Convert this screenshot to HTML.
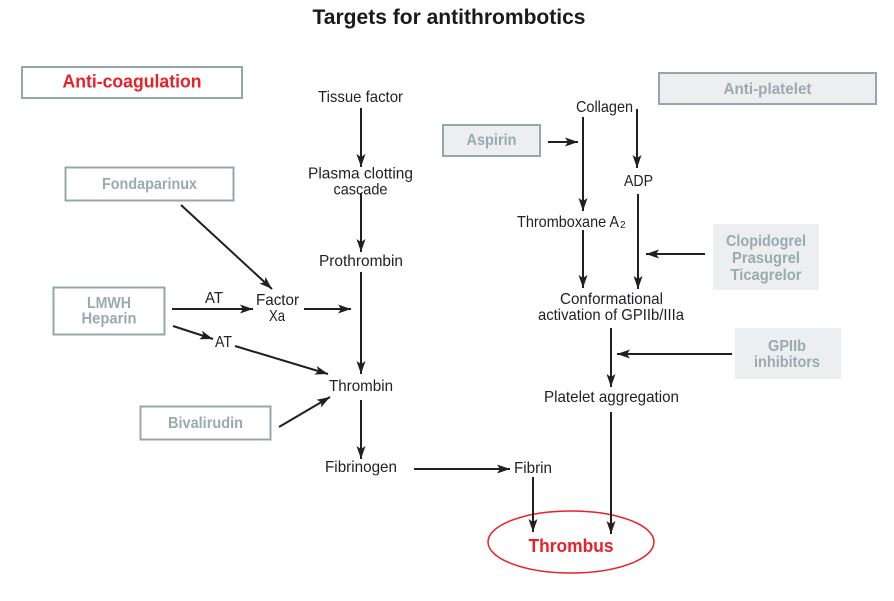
<!DOCTYPE html>
<html>
<head>
<meta charset="utf-8">
<style>
  html, body { margin: 0; padding: 0; background: #ffffff; }
  body { width: 894px; height: 601px; overflow: hidden; }
  svg { display: block; }
  .t { font-family: "Liberation Sans", sans-serif; font-size: 16px; fill: #22202a; }
  .g { font-family: "Liberation Sans", sans-serif; font-size: 16px; font-weight: bold; fill: #98abb0; }
  .r { font-family: "Liberation Sans", sans-serif; font-weight: bold; fill: #e8202a; }
  .ln { stroke: #231f20; stroke-width: 2; fill: none; }
</style>
</head>
<body>
<svg width="894" height="601" viewBox="0 0 894 601" xmlns="http://www.w3.org/2000/svg">
  <defs>
    <marker id="ah" viewBox="0 0 13 9" refX="13" refY="4.5" markerWidth="13" markerHeight="9" markerUnits="userSpaceOnUse" orient="auto">
      <path d="M0,0 L13,4.5 L0,9 L3,4.5 z" fill="#231f20"/>
    </marker>
  </defs>

  <!-- Title -->
  <text x="449" y="24" text-anchor="middle" font-family="Liberation Sans, sans-serif" font-size="21" font-weight="bold" fill="#1a1a1a" textLength="273" lengthAdjust="spacingAndGlyphs">Targets for antithrombotics</text>

  <!-- Boxes -->
  <rect x="22" y="67" width="220" height="31" fill="#ffffff" stroke="#95a7ab" stroke-width="2"/>
  <text class="r" x="132" y="87.5" text-anchor="middle" font-size="18" textLength="139" lengthAdjust="spacingAndGlyphs">Anti-coagulation</text>

  <rect x="65.5" y="167.5" width="168" height="33" fill="#ffffff" stroke="#95a7ab" stroke-width="2"/>
  <text class="g" x="149.5" y="189" text-anchor="middle" textLength="95" lengthAdjust="spacingAndGlyphs">Fondaparinux</text>

  <rect x="53.5" y="287.5" width="111" height="47" fill="#ffffff" stroke="#95a7ab" stroke-width="2"/>
  <text class="g" x="109" y="308" text-anchor="middle" textLength="44" lengthAdjust="spacingAndGlyphs">LMWH</text>
  <text class="g" x="109" y="323.5" text-anchor="middle" textLength="55" lengthAdjust="spacingAndGlyphs">Heparin</text>

  <rect x="140.5" y="406.5" width="130" height="33" fill="#ffffff" stroke="#95a7ab" stroke-width="2"/>
  <text class="g" x="205.5" y="428" text-anchor="middle" textLength="75" lengthAdjust="spacingAndGlyphs">Bivalirudin</text>

  <rect x="443" y="125" width="97" height="31" fill="#eceeef" stroke="#95a7ab" stroke-width="2"/>
  <text class="g" x="491.5" y="145" text-anchor="middle" textLength="50" lengthAdjust="spacingAndGlyphs">Aspirin</text>

  <rect x="659" y="73" width="217" height="31" fill="#eceeef" stroke="#95a7ab" stroke-width="2"/>
  <text class="g" x="767.5" y="94" text-anchor="middle" textLength="88" lengthAdjust="spacingAndGlyphs">Anti-platelet</text>

  <rect x="713" y="224" width="106" height="66" fill="#eceeef"/>
  <text class="g" x="766" y="246" text-anchor="middle" textLength="80" lengthAdjust="spacingAndGlyphs">Clopidogrel</text>
  <text class="g" x="766" y="263" text-anchor="middle" textLength="68" lengthAdjust="spacingAndGlyphs">Prasugrel</text>
  <text class="g" x="766" y="280" text-anchor="middle" textLength="71" lengthAdjust="spacingAndGlyphs">Ticagrelor</text>

  <rect x="735" y="328" width="106" height="51" fill="#eceeef"/>
  <text class="g" x="787" y="351" text-anchor="middle" textLength="38" lengthAdjust="spacingAndGlyphs">GPIIb</text>
  <text class="g" x="787" y="367" text-anchor="middle" textLength="66" lengthAdjust="spacingAndGlyphs">inhibitors</text>

  <!-- Thrombus ellipse -->
  <ellipse cx="571" cy="542" rx="83" ry="31" fill="none" stroke="#e8202a" stroke-width="1.5"/>
  <text class="r" x="571" y="552" text-anchor="middle" font-size="18.5" textLength="85" lengthAdjust="spacingAndGlyphs">Thrombus</text>

  <!-- Plain labels -->
  <text class="t" x="360.5" y="102" text-anchor="middle" textLength="85" lengthAdjust="spacingAndGlyphs">Tissue factor</text>
  <text class="t" x="360.5" y="178.5" text-anchor="middle" textLength="105" lengthAdjust="spacingAndGlyphs">Plasma clotting</text>
  <text class="t" x="360.5" y="194.5" text-anchor="middle" textLength="54" lengthAdjust="spacingAndGlyphs">cascade</text>
  <text class="t" x="361" y="266" text-anchor="middle" textLength="84" lengthAdjust="spacingAndGlyphs">Prothrombin</text>
  <text class="t" x="214" y="303" text-anchor="middle" textLength="18" lengthAdjust="spacingAndGlyphs">AT</text>
  <text class="t" x="277.5" y="305" text-anchor="middle" textLength="43" lengthAdjust="spacingAndGlyphs">Factor</text>
  <text class="t" x="277" y="321" text-anchor="middle" textLength="16" lengthAdjust="spacingAndGlyphs">Xa</text>
  <text class="t" x="223.5" y="347" text-anchor="middle" textLength="17" lengthAdjust="spacingAndGlyphs">AT</text>
  <text class="t" x="361" y="391" text-anchor="middle" textLength="64" lengthAdjust="spacingAndGlyphs">Thrombin</text>
  <text class="t" x="361" y="472" text-anchor="middle" textLength="72" lengthAdjust="spacingAndGlyphs">Fibrinogen</text>
  <text class="t" x="533" y="473" text-anchor="middle" textLength="38" lengthAdjust="spacingAndGlyphs">Fibrin</text>

  <text class="t" x="604.5" y="112" text-anchor="middle" textLength="57" lengthAdjust="spacingAndGlyphs">Collagen</text>
  <text class="t" x="638.5" y="186" text-anchor="middle" textLength="29" lengthAdjust="spacingAndGlyphs">ADP</text>
  <text class="t" x="517" y="227" textLength="102" lengthAdjust="spacingAndGlyphs">Thromboxane A</text>
  <text class="t" x="620" y="228" style="font-size:10px">2</text>
  <text class="t" x="611.5" y="304" text-anchor="middle" textLength="103" lengthAdjust="spacingAndGlyphs">Conformational</text>
  <text class="t" x="611" y="320" text-anchor="middle" textLength="146" lengthAdjust="spacingAndGlyphs">activation of GPIIb/IIIa</text>
  <text class="t" x="611.5" y="402" text-anchor="middle" textLength="135" lengthAdjust="spacingAndGlyphs">Platelet aggregation</text>

  <!-- Arrows: coagulation column -->
  <line class="ln" x1="361" y1="108" x2="361" y2="167" marker-end="url(#ah)"/>
  <line class="ln" x1="361" y1="193" x2="361" y2="252" marker-end="url(#ah)"/>
  <line class="ln" x1="361" y1="272" x2="361" y2="374" marker-end="url(#ah)"/>
  <line class="ln" x1="361" y1="400" x2="361" y2="459" marker-end="url(#ah)"/>
  <line class="ln" x1="414" y1="469" x2="510" y2="469" marker-end="url(#ah)"/>
  <line class="ln" x1="533" y1="477" x2="533" y2="532" marker-end="url(#ah)"/>

  <!-- Anticoagulant arrows -->
  <line class="ln" x1="181" y1="205" x2="272" y2="289" marker-end="url(#ah)"/>
  <line class="ln" x1="172" y1="309" x2="253" y2="309" marker-end="url(#ah)"/>
  <line class="ln" x1="304" y1="309" x2="351" y2="309" marker-end="url(#ah)"/>
  <line class="ln" x1="173" y1="326" x2="213" y2="339" marker-end="url(#ah)"/>
  <line class="ln" x1="235" y1="346" x2="328" y2="374" marker-end="url(#ah)"/>
  <line class="ln" x1="279" y1="427" x2="330" y2="397" marker-end="url(#ah)"/>

  <!-- Platelet arrows -->
  <line class="ln" x1="583" y1="117" x2="583" y2="211" marker-end="url(#ah)"/>
  <line class="ln" x1="637" y1="109" x2="637" y2="168" marker-end="url(#ah)"/>
  <line class="ln" x1="548" y1="142" x2="578" y2="142" marker-end="url(#ah)"/>
  <line class="ln" x1="638" y1="194" x2="638" y2="289" marker-end="url(#ah)"/>
  <line class="ln" x1="583" y1="230" x2="583" y2="288" marker-end="url(#ah)"/>
  <line class="ln" x1="705" y1="254" x2="646" y2="254" marker-end="url(#ah)"/>
  <line class="ln" x1="611" y1="328" x2="611" y2="387" marker-end="url(#ah)"/>
  <line class="ln" x1="732" y1="354" x2="617" y2="354" marker-end="url(#ah)"/>
  <line class="ln" x1="611" y1="412" x2="611" y2="534" marker-end="url(#ah)"/>
</svg>
</body>
</html>
